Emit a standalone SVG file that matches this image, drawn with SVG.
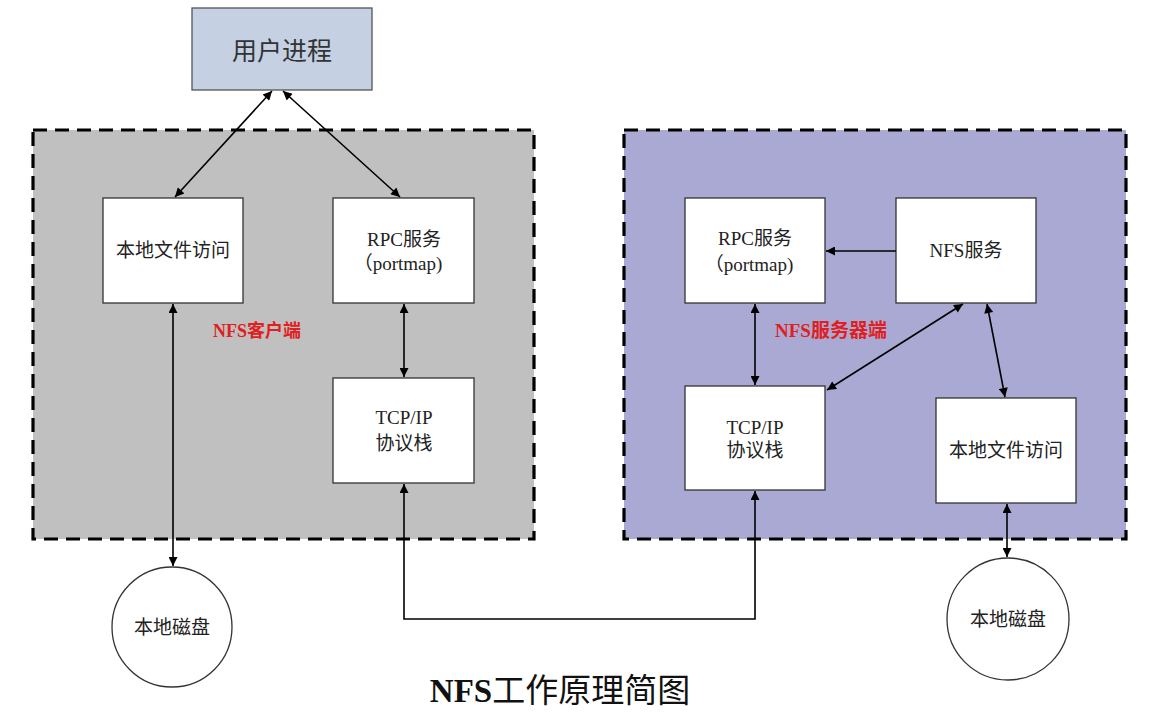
<svg xmlns="http://www.w3.org/2000/svg" width="1159" height="716" viewBox="0 0 1159 716">
<defs>
<marker id="ah" viewBox="0 0 10 10" refX="10" refY="5" markerWidth="11" markerHeight="9" markerUnits="userSpaceOnUse" orient="auto-start-reverse">
<path d="M0,0 L10,5 L0,10 z" fill="#000"/>
</marker>
<style>
.cont{stroke:#000;stroke-width:3.2;stroke-dasharray:14 8}
.box{fill:#fff;stroke:#333;stroke-width:1.3}
.t{font-family:"Liberation Serif","Noto Sans CJK SC",serif;font-size:19px;fill:#222;text-anchor:middle}
.red{font-family:"Liberation Serif","Noto Sans CJK SC",serif;font-size:18px;font-weight:bold;fill:#e02020;text-anchor:middle}
.c{fill:none;stroke:#000;stroke-width:1.6;marker-start:url(#ah);marker-end:url(#ah)}
.c1{fill:none;stroke:#000;stroke-width:1.6;marker-end:url(#ah)}
</style>
</defs>
<rect width="1159" height="716" fill="#fff"/>
<g id="client-area">
<rect x="33" y="130" width="501" height="409" fill="#c0c0c0" class="cont"/>
<text class="red" x="257" y="337">NFS客户端</text>
</g>
<g id="server-area">
<rect x="624" y="130" width="502" height="409" fill="#a9a9d4" class="cont"/>
<text class="red" x="831" y="337" style="font-size:19px">NFS服务器端</text>
</g>
<g id="user-process">
<rect x="192" y="8" width="180" height="82" fill="#c5d1e3" stroke="#555" stroke-width="1.3"/>
<text class="t" x="282" y="60" style="font-size:25px;fill:#333">用户进程</text>
</g>
<g id="client-local-file">
<rect class="box" x="103" y="198" width="140" height="105"/>
<text class="t" x="173" y="257">本地文件访问</text>
</g>
<g id="client-rpc">
<rect class="box" x="333" y="198" width="141" height="105"/>
<text class="t" x="404" y="246">RPC服务</text>
<text class="t" x="398" y="270">（portmap)</text>
</g>
<g id="client-tcp">
<rect class="box" x="333" y="378" width="141" height="105"/>
<text class="t" x="404" y="424">TCP/IP</text>
<text class="t" x="404" y="450">协议栈</text>
</g>
<g id="client-disk">
<circle cx="172" cy="627" r="60" fill="#fff" stroke="#333" stroke-width="1.3"/>
<text class="t" x="172" y="634">本地磁盘</text>
</g>
<g id="server-rpc">
<rect class="box" x="685" y="198" width="140" height="105"/>
<text class="t" x="755" y="245">RPC服务</text>
<text class="t" x="749" y="271">（portmap)</text>
</g>
<g id="server-nfs">
<rect class="box" x="896" y="198" width="140" height="105"/>
<text class="t" x="966" y="257">NFS服务</text>
</g>
<g id="server-tcp">
<rect class="box" x="685" y="386" width="140" height="104"/>
<text class="t" x="755" y="434">TCP/IP</text>
<text class="t" x="755" y="457">协议栈</text>
</g>
<g id="server-local-file">
<rect class="box" x="936" y="398" width="140" height="105"/>
<text class="t" x="1006" y="457">本地文件访问</text>
</g>
<g id="server-disk">
<circle cx="1008" cy="619" r="61" fill="#fff" stroke="#333" stroke-width="1.3"/>
<text class="t" x="1008" y="626">本地磁盘</text>
</g>
<g id="connectors">
<line class="c" x1="272" y1="91" x2="175" y2="197"/>
<line class="c" x1="283" y1="91" x2="400" y2="197"/>
<line class="c" x1="173" y1="304" x2="173" y2="566"/>
<line class="c" x1="404" y1="304" x2="404" y2="377"/>
<line class="c" x1="755" y1="304" x2="755" y2="385"/>
<line class="c1" x1="896" y1="251" x2="826" y2="251"/>
<line class="c" x1="963" y1="304" x2="827" y2="390"/>
<line class="c" x1="987" y1="304" x2="1005" y2="397"/>
<line class="c" x1="1007" y1="504" x2="1007" y2="557"/>
<polyline class="c" points="404,484 404,619 755,619 755,491"/>
</g>
<text x="560" y="702" text-anchor="middle" font-family="Liberation Serif,'Noto Sans CJK SC',serif" font-size="33" font-weight="bold" fill="#111">NFS<tspan font-weight="normal">工作原理简图</tspan></text>
</svg>
